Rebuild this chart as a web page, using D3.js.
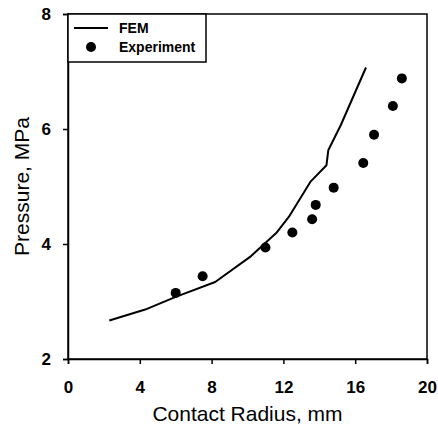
<!DOCTYPE html>
<html><head><meta charset="utf-8">
<script src="https://cdn.jsdelivr.net/npm/d3@7"></script>
<style>body{margin:0;background:#fff}svg{display:block}</style>
</head><body>
<script>
const femX = [2.3, 4.3, 6.0, 8.2, 10.2, 11.6, 12.3, 13.5, 14.4, 14.5, 15.2, 16.6];
const femY = [2.67, 2.86, 3.08, 3.34, 3.79, 4.19, 4.47, 5.08, 5.37, 5.63, 6.07, 7.07];
const expX = [6.0, 7.5, 11.0, 12.5, 13.6, 13.8, 14.8, 16.45, 17.05, 18.1, 18.6];
const expY = [3.15, 3.44, 3.94, 4.20, 4.43, 4.68, 4.98, 5.41, 5.90, 6.40, 6.88];
const xTicks = [0, 4, 8, 12, 16, 20];
const yTicks = [2, 4, 6, 8];
const seriesNames = ["FEM", "Experiment"];

const W = 438, H = 433;
const m = {left: 68, right: 11, top: 14, bottom: 74};
const svg = d3.select("body").append("svg").attr("width", W).attr("height", H);
const x = d3.scaleLinear().domain([0, 20]).range([m.left, W - m.right]);
const y = d3.scaleLinear().domain([2, 8]).range([H - m.bottom, m.top]);
const font = "Liberation Sans, Arial, sans-serif";

// frame
svg.append("rect").attr("x", x(0)).attr("y", y(8)).attr("width", x(20) - x(0)).attr("height", y(2) - y(8))
  .attr("fill", "none").attr("stroke", "#000").attr("stroke-width", 1.5);

const xa = svg.append("g").attr("transform", `translate(0,${y(2)})`)
  .call(d3.axisBottom(x).tickValues(xTicks).tickSize(5).tickPadding(17).tickFormat(d3.format("d")));
const ya = svg.append("g").attr("transform", `translate(${x(0)},0)`)
  .call(d3.axisLeft(y).tickValues(yTicks).tickSize(5).tickPadding(12).tickFormat(d3.format("d")));
[xa, ya].forEach(a => {
  a.select(".domain").attr("stroke", "#000").attr("stroke-width", 1.5);
  a.selectAll(".tick line").attr("stroke", "#000").attr("stroke-width", 1.5);
  a.selectAll(".tick text").attr("fill", "#000").style("font-family", font).style("font-size", "17px").style("font-weight", "bold");
});

// FEM line
const fem = femX.map((d, i) => [d, femY[i]]);
svg.append("path").datum(fem)
  .attr("d", d3.line().x(d => x(d[0])).y(d => y(d[1])))
  .attr("fill", "none").attr("stroke", "#000").attr("stroke-width", 2).attr("stroke-linejoin", "round");

// Experiment points
const exp = expX.map((d, i) => [d, expY[i]]);
svg.append("g").selectAll("circle").data(exp).join("circle")
  .attr("cx", d => x(d[0])).attr("cy", d => y(d[1])).attr("r", 5).attr("fill", "#000");

// axis titles
svg.append("text").attr("x", (x(0) + x(20)) / 2).attr("y", 421).attr("text-anchor", "middle")
  .style("font-family", font).style("font-size", "21px").attr("fill", "#000").text("Contact Radius, mm");
svg.append("text").attr("transform", `translate(29,${(y(2) + y(8)) / 2}) rotate(-90)`).attr("text-anchor", "middle")
  .style("font-family", font).style("font-size", "21px").attr("fill", "#000").text("Pressure, MPa");

// legend
const lg = svg.append("g");
lg.append("rect").attr("x", x(0)).attr("y", y(8)).attr("width", 138).attr("height", 48)
  .attr("fill", "#fff").attr("stroke", "#000").attr("stroke-width", 1.5);
lg.append("line").attr("x1", 74).attr("x2", 108).attr("y1", 28).attr("y2", 28).attr("stroke", "#000").attr("stroke-width", 2);
lg.append("circle").attr("cx", 91).attr("cy", 47).attr("r", 5).attr("fill", "#000");
lg.selectAll("text.lt").data(seriesNames).join("text").attr("class", "lt")
  .attr("x", 119).attr("y", (d, i) => 33 + i * 19)
  .style("font-family", font).style("font-size", "14px").style("font-weight", "bold").attr("fill", "#000").text(d => d);
</script>
</body></html>
